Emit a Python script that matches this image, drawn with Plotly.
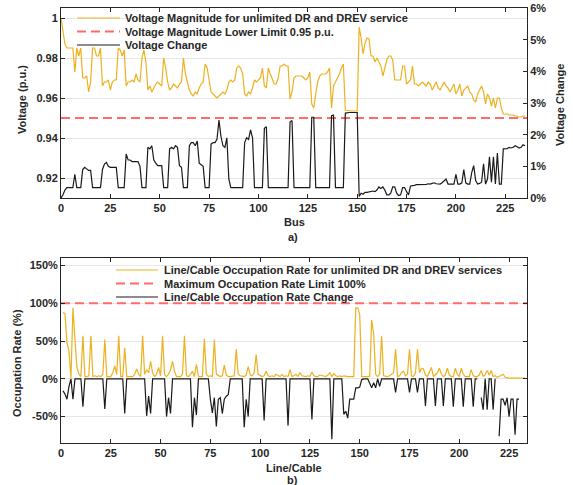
import plotly.graph_objects as go
from plotly.subplots import make_subplots

# ---- a) bus voltages ----
bus = list(range(0, 236))
v_mag = [
    1.000, 0.993, 0.987, 0.985, 0.985, 0.985, 0.985, 0.973, 0.985, 0.981, 0.985,
    0.970, 0.970, 0.971, 0.963, 0.968, 0.985, 0.985, 0.981, 0.981, 0.985,
    0.966, 0.968, 0.968, 0.969, 0.964, 0.968, 0.969, 0.969, 0.985, 0.984, 0.981, 0.984,
    0.966, 0.968, 0.968, 0.969, 0.968, 0.972, 0.969, 0.968,
    0.980, 0.984, 0.978,
    0.964, 0.966, 0.963, 0.965, 0.967, 0.968, 0.967, 0.966,
    0.980, 0.975, 0.968,
    0.964, 0.965, 0.967, 0.966, 0.965, 0.967, 0.968,
    0.980, 0.972, 0.968,
    0.964, 0.962, 0.961, 0.963, 0.962, 0.965, 0.967, 0.968,
    0.977, 0.975, 0.969,
    0.963, 0.962, 0.961, 0.960,
    0.961, 0.962, 0.963, 0.962, 0.964,
    0.968, 0.969, 0.968, 0.969, 0.975, 0.976, 0.975, 0.972,
    0.962, 0.961, 0.963, 0.962, 0.965,
    0.969, 0.968, 0.969, 0.970, 0.975,
    0.966, 0.965,
    0.975, 0.972, 0.969, 0.967, 0.967, 0.970, 0.976, 0.976, 0.977, 0.976, 0.976,
    0.9595, 0.963,
    0.970, 0.971, 0.971, 0.971, 0.971, 0.970, 0.969, 0.970, 0.973,
    0.957, 0.955,
    0.962, 0.968, 0.971, 0.972, 0.972, 0.972, 0.973, 0.975,
    0.955, 0.966,
    0.968, 0.970, 0.972, 0.975, 0.977,
    0.954, 0.9538, 0.9535, 0.9535, 0.9535, 0.9535, 0.9535,
    0.9955, 0.990, 0.982, 0.9875, 0.990, 0.9895, 0.981, 0.981, 0.978, 0.980,
    0.978, 0.976, 0.971, 0.975, 0.979, 0.981, 0.981, 0.979, 0.969, 0.969,
    0.969, 0.969, 0.976, 0.976, 0.967, 0.968, 0.969, 0.976, 0.967, 0.967,
    0.966, 0.967, 0.968, 0.967, 0.966, 0.968, 0.967, 0.964, 0.966, 0.968,
    0.965, 0.964, 0.966, 0.968, 0.966, 0.965, 0.963, 0.965, 0.967, 0.962,
    0.964, 0.967, 0.961, 0.964, 0.965, 0.966, 0.963, 0.962, 0.959, 0.958,
    0.962, 0.964, 0.966, 0.963, 0.957, 0.962, 0.960, 0.956, 0.960, 0.955,
    0.960, 0.960, 0.955, 0.952, 0.952, 0.952, 0.9515, 0.9515, 0.9515, 0.951,
    0.951, 0.9505, 0.9505, 0.951, 0.951,
]
v_change = [
    0.0, 0.1, 0.25, 0.33, 0.33, 0.33, 0.33, 0.75, 0.33, 0.33, 0.33,
    0.90, 0.97, 0.92, 0.87, 0.87, 0.33, 0.33, 0.33, 0.33, 0.33,
    0.90, 1.07, 1.12, 1.0, 0.97, 0.97, 0.97, 0.97, 0.33, 0.33, 0.33, 0.33,
    1.39, 1.2, 1.2, 1.15, 1.15, 1.15, 1.15, 1.0,
    0.33, 0.33, 0.33,
    1.6, 1.55, 1.65, 1.2, 1.1, 1.02, 1.02, 1.02,
    0.33, 0.33, 0.33,
    1.55, 1.6, 1.55, 1.65, 1.6, 1.02, 0.97,
    0.33, 0.33, 0.33,
    1.65, 1.75, 1.75, 1.65, 1.8, 1.1, 1.05, 1.0,
    0.33, 0.33, 0.33,
    1.7, 1.75, 1.75, 1.85,
    2.46, 1.95, 1.65, 1.6, 1.9,
    0.6, 0.33, 0.33, 0.33, 0.33, 0.33, 0.33, 0.33,
    1.75, 1.9, 1.85, 2.15, 1.9,
    0.33, 0.33, 0.33, 0.33, 0.33,
    2.2, 2.25,
    0.33, 0.33, 0.33, 0.33, 0.33, 0.33, 0.33, 0.33, 0.33, 0.33, 0.33,
    2.4, 2.45,
    0.33, 0.33, 0.33, 0.33, 0.33, 0.33, 0.33, 0.33, 0.33,
    2.55, 2.55,
    0.33, 0.33, 0.33, 0.33, 0.33, 0.33, 0.33, 0.33,
    2.6, 2.62,
    0.33, 0.33, 0.33, 0.33, 0.33,
    2.68, 2.7, 2.7, 2.7, 2.7, 2.7, 2.7,
    0.05, 0.15, 0.12, 0.18, 0.18, 0.2, 0.2, 0.22, 0.2, 0.25,
    0.35, 0.3, 0.35, 0.25, 0.1, 0.1, 0.15, 0.35, 0.35, 0.15,
    0.08, 0.1, 0.33, 0.33, 0.2, 0.1, 0.38, 0.38, 0.4, 0.42,
    0.42, 0.44, 0.44, 0.44, 0.43, 0.45, 0.44, 0.46, 0.48, 0.45,
    0.44, 0.44, 0.48, 0.55, 0.6, 0.44, 0.44, 0.44, 0.44, 0.75,
    0.44, 0.44, 0.48, 0.9, 0.48, 0.44, 0.44, 0.8, 1.02, 0.55,
    0.44, 0.46, 0.5, 1.08, 0.44, 0.6, 1.3, 0.5, 1.3, 0.44,
    1.42, 0.44, 0.44, 1.55, 1.55, 1.56, 1.6, 1.58, 1.6, 1.65,
    1.62, 1.58, 1.6, 1.68, 1.65,
]
v_limit = 0.95
v_ticks = [0.92, 0.94, 0.96, 0.98, 1.0]
v_ticktext = ["0.92", "0.94", "0.96", "0.98", "1"]

# ---- b) line / cable loading ----
line = list(range(1, 234))
occ = [
    87.6, 86.7, 48, 37, 1, 94, 52, 15, 6, 3,
    57, 3, 3, 4, 57, 3, 4, 3, 4, 3,
    6, 52, 3, 3, 3, 8, 17, 6, 57, 3,
    3, 41, 3, 3, 3, 3, 6, 13, 6, 3,
    57, 6, 12, 8, 23, 8, 3, 6, 15, 4,
    57, 6, 3, 6, 12, 23, 10, 3, 3, 3,
    6, 57, 4, 3, 6, 10, 3, 19, 3, 3,
    3, 53, 6, 3, 4, 3, 52, 6, 4, 3,
    4, 18, 5, 3, 3, 3, 4, 39, 6, 4,
    4, 3, 5, 16, 5, 4, 8, 32, 6, 4,
    3, 4, 10, 4, 3, 4, 3, 6, 4, 3,
    6, 3, 4, 3, 12, 3, 4, 6, 3, 8,
    4, 3, 3, 4, 3, 9, 4, 3, 3, 5,
    4, 3, 3, 5, 8, 3, 7, 4, 3, 4,
    3, 4, 3, 3, 3, 3, 3, 94, 94, 85,
    3, 3, 3, 3, 3, 78, 60, 6, 3, 6,
    57, 4, 3, 3, 4, 6, 8, 39, 3, 4,
    8, 10, 4, 6, 39, 4, 3, 8, 39, 8,
    14, 13, 5, 3, 8, 15, 3, 5, 8, 14,
    6, 3, 5, 14, 5, 3, 3, 14, 6, 3,
    14, 6, 3, 3, 3, 12, 4, 3, 3, 5,
    11, 3, 6, 11, 5, 11, 3, 4, 2, 3,
    4, 6, 2, 1, 1, 1, 1, 1, 1, 1,
    1, 1, 1,
]
occ_change = [
    -16, -20, -27, -10, 0, -27, 0, 0, 0, 0,
    -37, 0, 0, 0, 0, 0, 0, 0, 0, 0,
    0, -40, 0, 0, 0, 0, 0, 0, 0, 0,
    0, -46, 0, 0, 0, 0, 0, 0, 0, 0,
    0, 0, -49, -23, -46, 0, 0, 0, 0, 0,
    0, 0, -50, -25, -46, 0, 0, 0, 0, 0,
    0, 0, 0, 0, 0, -64, -25, -48, 0, 0,
    0, 0, 0, 0, -27, -45, -25, -63, -27, -25,
    -46, -27, -23, -21, 0, 0, 0, 0, 0, 0,
    0, -64, -27, -50, 0, 0, 0, 0, 0, 0,
    0, -55, 0, 0, 0, 0, 0, 0, 0, 0,
    0, 0, 0, -62, 0, 0, 0, 0, 0, 0,
    0, 0, 0, 0, 0, -54, 0, 0, 0, 0,
    0, 0, 0, 0, 0, -80, 0, 0, 0, 0,
    0, -47, -43, -52, -27, -27, -27, -12, -12, -11,
    -1, 0, 0, 0, -6, -12, -5, -12, 0, -10,
    0, 0, 0, 0, 0, 0, 0, -18, 0, 0,
    0, 0, 0, 0, -18, 0, 0, 0, -18, 0,
    0, 0, -36, 0, 0, 0, 0, -36, 0, 0,
    0, -36, 0, 0, 0, 0, -37, 0, 0, 0,
    0, -37, 0, 0, 0, 0, -37, 0, 0, None,
    -25, -41, 0, -41, 0, 0, -41, 0, None, -76,
    -27, -27, -35, -25, -50, -27, -27, -74, -27, -27,
    None, None, None,
]
occ_limit = 100
occ_ticks = [-50, 0, 50, 100, 150]
occ_ticktext = ["-50%", "0%", "50%", "100%", "150%"]

legend_top = ["Voltage Magnitude for unlimited DR and DREV service",
              "Voltage Magnitude Lower Limit 0.95 p.u.",
              "Voltage Change"]
legend_bot = ["Line/Cable Occupation Rate for unlimited DR and DREV services",
              "Maximum Occupation Rate Limit 100%",
              "Line/Cable Occupation Rate Change"]

YEL = "#EDB120"
RED = "#FF6B6B"
BLK = "#1a1a1a"
AX = "#262626"
GRID = "#E6E6E6"
FONT = "Liberation Sans"
DASH = "9px,5px"

W, H = 573, 485
L, R, T, B = 61, 46, 8, 42


def px(x):  # pixel x -> paper x
    return (x - L) / (W - L - R)


def py(y):  # pixel y -> paper y
    return (H - B - y) / (H - T - B)


fig = make_subplots(rows=2, cols=1, specs=[[{"secondary_y": True}], [{}]])

fig.add_trace(go.Scatter(x=bus, y=v_mag, mode="lines", line=dict(color=YEL, width=1.2),
                         name=legend_top[0]), row=1, col=1, secondary_y=False)
fig.add_trace(go.Scatter(x=[0, 236], y=[v_limit, v_limit], mode="lines",
                         line=dict(color=RED, width=2, dash=DASH), name=legend_top[1]),
              row=1, col=1, secondary_y=False)
fig.add_trace(go.Scatter(x=bus, y=v_change, mode="lines", line=dict(color=BLK, width=1.2),
                         name=legend_top[2]), row=1, col=1, secondary_y=True)

fig.add_trace(go.Scatter(x=line, y=occ, mode="lines", line=dict(color=YEL, width=1.2),
                         name=legend_bot[0]), row=2, col=1)
fig.add_trace(go.Scatter(x=[0, 234], y=[occ_limit, occ_limit], mode="lines",
                         line=dict(color=RED, width=2, dash=DASH), name=legend_bot[1]), row=2, col=1)
fig.add_trace(go.Scatter(x=line, y=occ_change, mode="lines", line=dict(color=BLK, width=1.2),
                         name=legend_bot[2], connectgaps=False), row=2, col=1)

bold = dict(family=FONT, size=11, color=AX, weight="bold")
common = dict(showline=True, linecolor=AX, linewidth=1, ticks="inside",
              ticklen=4, tickcolor=AX, tickfont=bold, zeroline=False, automargin=False)

fig.update_layout(
    width=W, height=H,
    margin=dict(l=L, r=R, t=T, b=B),
    paper_bgcolor="white", plot_bgcolor="white",
    showlegend=False,
    xaxis=dict(domain=[0, 1], range=[0, 236], dtick=25, tick0=0, showgrid=False,
               mirror="ticks", **common),
    yaxis=dict(domain=[py(198), 1.0], range=[0.91, 1.005], tickvals=v_ticks, ticktext=v_ticktext,
               showgrid=True, gridcolor=GRID, mirror=True, **common),
    yaxis2=dict(range=[0, 6], dtick=1, ticksuffix="%", showgrid=False, **common),
    xaxis2=dict(domain=[0, 1], range=[0, 234], dtick=25, tick0=0, showgrid=False,
                mirror="ticks", **common),
    yaxis3=dict(domain=[0, py(258)], range=[-85, 160], tickvals=occ_ticks, ticktext=occ_ticktext,
                showgrid=True, gridcolor=GRID, mirror="ticks", **common),
)

# axis titles and captions
texts = [
    ("Bus", 294, 222, 0), ("a)", 293, 237, 0),
    ("Line/Cable", 294, 468, 0), ("b)", 292, 480, 0),
    ("Voltage (p.u.)", 22, 100, -90), ("Voltage Change", 560, 105, -90),
    ("Occupation Rate (%)", 17, 363, -90),
]
for t, x, y, ang in texts:
    fig.add_annotation(text=t, x=px(x), y=py(y), xref="paper", yref="paper", showarrow=False,
                       textangle=ang, font=bold, xanchor="center", yanchor="middle")

# hand-drawn legends (sample line + label)
styles = [dict(color=YEL, width=1.2), dict(color=RED, width=2, dash=DASH), dict(color=BLK, width=1.2)]
for labels, x0, x1, xt, rows in [(legend_top, 77, 120, 123, [18, 31.5, 45]),
                                 (legend_bot, 116, 158, 162, [270, 283.5, 297])]:
    for lab, st, y in zip(labels, styles, rows):
        fig.add_shape(type="line", xref="paper", yref="paper", x0=px(x0), x1=px(x1),
                      y0=py(y), y1=py(y), line=st)
        fig.add_annotation(text=lab, x=px(xt), y=py(y), xref="paper", yref="paper",
                           showarrow=False, font=bold, xanchor="left", yanchor="middle")

fig.write_html("out.html", config={"displayModeBar": False},
               post_script="document.body.style.margin='0px';")
